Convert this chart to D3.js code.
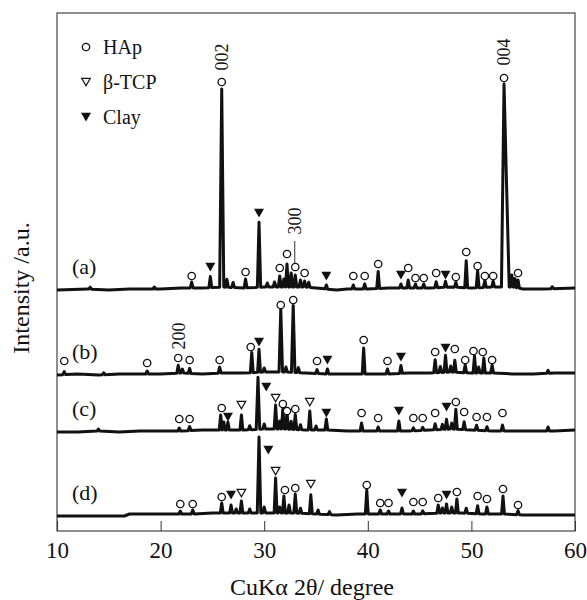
<!DOCTYPE html>
<html>
<head>
<meta charset="utf-8">
<script src="https://cdn.jsdelivr.net/npm/d3@7"></script>
<style>
  body { margin: 0; background: #fff; }
  text { font-family: "Liberation Serif", "Times New Roman", serif; fill: #111; }
</style>
</head>
<body>
<div id="chart"></div>
<script>
// x ticks
const thetaTicks = [10, 20, 30, 40, 50, 60];

// trace labels and vertical offsets (intensity units)
const traceNames = ["(a)", "(b)", "(c)", "(d)"];
const traceOffsets = [241, 156, 99, 15];

// background of each pattern [2theta, intensity]
const baseA = [[10,0],[13,1],[15,0],[17,1],[20,1],[22,2],[24,2],[26,3],[28,2],[30,3],[32,3],[34,3],[35,2],[37,0],[38,1],[40,1],[42,2],[44,2],[46,2],[48,3],[50,2],[52,3],[54,3],[55,1],[57,1],[60,2]];
const baseB = [[10,0],[12,1],[14,0],[16,1],[18,1],[20,1],[22,2],[24,1],[26,2],[28,2],[30,3],[32,3],[34,2],[36,1],[38,1],[40,1],[42,1],[44,2],[46,2],[48,3],[50,2],[52,2],[54,1],[56,1],[58,2],[60,2]];
const baseC = [[10,0],[12,0],[14,1],[16,0],[18,1],[20,1],[22,1],[24,2],[26,2],[28,2],[30,3],[32,3],[34,2],[36,2],[38,1],[40,1],[42,1],[44,1],[46,2],[48,3],[50,2],[52,1],[54,1],[56,1],[58,1],[60,2]];
const baseD = [[10,0],[13,0],[16.5,0],[17,2],[19,2],[21,2],[23,2],[25,3],[27,3],[29,3],[31,3],[33,3],[35,2],[37,1],[39,2],[41,2],[43,2],[45,2],[47,3],[49,3],[51,2],[53,2],[55,1],[57,1],[60,1]];

// peaks [2theta, height, half width]
const peaksA = [[13.2,2],[19.4,2],[23.0,6],[24.8,11],[25.9,198,0.2],[26.4,8],[27.0,5],[28.2,9],[29.5,65,0.16],[30.3,4],[31.0,5],[31.5,11],[31.9,8],[32.2,23],[32.6,14],[33.0,12],[33.5,7],[33.9,6],[34.3,5],[36.0,4],[38.6,4],[39.7,5],[41.0,17],[43.2,4],[43.9,8],[44.6,4],[45.4,4],[46.6,6],[47.5,6],[48.5,5],[49.5,27],[50.6,17],[51.3,7],[52.1,6],[53.15,203,0.25],[53.4,100,0.25],[53.9,12],[54.2,9],[54.5,8],[57.8,2]];
const peaksB = [[10.7,3],[14.5,2],[18.7,3],[21.7,8],[22.1,4],[22.8,5],[25.7,6],[28.8,20],[29.5,23],[30.0,4],[31.6,63,0.17],[32.1,5],[32.8,67,0.17],[33.3,5],[35.1,4],[36.1,5],[39.6,26],[41.9,5],[43.2,8],[46.5,13],[47.0,6],[47.5,17],[48.0,6],[48.4,12],[49.4,8],[50.3,17],[50.7,6],[51.2,15],[52.0,8],[57.4,3]];
const peaksC = [[14.0,2],[21.8,3],[22.8,4],[25.8,15],[26.1,8],[26.5,8],[27.8,15],[28.6,4],[29.4,52,0.17],[30.0,5],[31.1,24],[31.5,8],[31.8,20],[32.2,17],[32.6,8],[33.0,15],[33.5,5],[34.4,19],[35.0,4],[36.0,11],[39.4,8],[41.0,4],[43.0,10],[44.4,3],[45.3,3],[46.5,6],[47.2,5],[47.6,10],[48.1,6],[48.5,20],[49.3,8],[50.5,5],[51.5,4],[53.0,6],[57.4,4]];
const peaksD = [[21.9,3],[23.1,4],[25.9,10],[26.8,8],[27.3,4],[27.8,12],[28.6,4],[29.5,76,0.17],[30.0,6],[31.1,35],[31.5,6],[31.9,17],[32.4,8],[33.0,19],[33.5,5],[34.5,19],[35.2,4],[36.3,3],[39.9,24],[41.2,4],[42.0,3],[43.3,6],[44.4,3],[45.3,3],[46.8,8],[47.2,5],[47.6,9],[48.1,6],[48.6,14],[49.5,5],[50.6,8],[51.5,7],[53.05,18],[54.5,4]];

// phase markers [2theta, height above pattern baseline]
const hapA = [[23.0,14],[25.9,208],[28.2,18],[31.5,22],[32.2,36],[33.0,23],[33.9,17],[38.6,14],[39.7,14],[41.0,26],[43.9,22],[44.6,12],[45.4,12],[46.6,17],[48.5,13],[49.5,38],[50.6,24],[51.3,14],[52.1,14],[53.15,212],[54.5,17]];
const clayA = [[24.8,23],[29.5,77],[36.0,14],[43.2,15],[47.5,15]];
const hapB = [[10.7,14],[18.7,12],[21.7,17],[22.8,15],[25.7,15],[28.7,28],[31.6,70],[32.8,75],[35.1,14],[39.6,35],[41.9,14],[46.5,23],[48.4,26],[49.4,15],[50.2,24],[51.1,23],[52.0,15]];
const clayB = [[29.5,33],[36.1,15],[43.2,18],[47.5,27]];
const hapC = [[21.8,13],[22.8,13],[25.9,24],[31.8,28],[32.2,21],[33.0,23],[39.4,19],[41.0,14],[44.4,14],[45.3,14],[46.5,19],[48.5,30],[49.3,20],[50.5,15],[51.5,15],[53.0,19]];
const tcpC = [[27.8,27],[31.1,34],[34.4,30]];
const clayC = [[26.5,15],[30.2,45],[36.0,19],[43.0,21],[47.6,25]];
const hapD = [[21.9,12],[23.1,12],[25.9,19],[32.0,26],[33.0,28],[39.9,31],[41.2,13],[42.0,13],[44.4,14],[45.3,14],[46.8,18],[48.6,24],[50.6,20],[51.5,17],[53.05,27],[54.5,11]];
const tcpD = [[27.8,23],[31.1,45],[34.5,32]];
const clayD = [[26.8,21],[30.4,66],[43.3,23],[47.6,21]];

// reflection labels [text, 2theta, trace index, height of label centre, leader from, leader to]
const hklLabels = [["002", 25.9, 0, 233], ["004", 53.15, 0, 238], ["300", 32.95, 0, 69, 27, 49], ["200", 21.7, 1, 39]];

const legendItems = [["hap", "HAp"], ["tcp", "β-TCP"], ["clay", "Clay"]];

const width = 587, height = 600;
const svg = d3.select("#chart").append("svg")
  .attr("width", width).attr("height", height);

const x = d3.scaleLinear().domain([10, 60]).range([57, 575]);
const y = d3.scaleLinear().domain([0, 518]).range([531, 13]);

// pattern = background + upper envelope of the peak triangles
const tracePoints = (base, peaks) => {
  const b = d3.scaleLinear().domain(base.map(d => d[0])).range(base.map(d => d[1])).clamp(true);
  const keys = base.map(d => d[0]);
  peaks.forEach(([t, h, w = 0.14]) => keys.push(t - w, t, t + w));
  keys.sort(d3.ascending);
  return keys.map(t => [t, b(t) + d3.max(peaks, ([p, h, w = 0.14]) => Math.max(0, h * (1 - Math.abs(t - p) / w)))]);
};

const traces = [[baseA, peaksA], [baseB, peaksB], [baseC, peaksC], [baseD, peaksD]];
const markerSets = [
  [["hap", hapA], ["clay", clayA]],
  [["hap", hapB], ["clay", clayB]],
  [["hap", hapC], ["tcp", tcpC], ["clay", clayC]],
  [["hap", hapD], ["tcp", tcpD], ["clay", clayD]]
];

// axis (ticks inward), frame drawn separately
const xAxis = d3.axisBottom(x).tickValues(thetaTicks).tickSize(-10).tickPadding(11).tickFormat(d3.format("d"));
const axisG = svg.append("g").attr("transform", `translate(0,${y(0)})`).call(xAxis);
axisG.select(".domain").remove();
axisG.selectAll(".tick line").attr("stroke", "#333");
axisG.selectAll(".tick text")
  .style("font-family", "'Liberation Serif', serif").style("font-size", "23px").attr("fill", "#111");

svg.append("rect")
  .attr("x", x(10)).attr("y", y(518))
  .attr("width", x(60) - x(10)).attr("height", y(0) - y(518))
  .attr("fill", "none").attr("stroke", "#333").attr("stroke-width", 1.1);

// patterns
traces.forEach(([base, peaks], i) => {
  const off = traceOffsets[i];
  const line = d3.line().x(d => x(d[0])).y(d => y(off + d[1]));
  svg.append("path")
    .attr("d", line(tracePoints(base, peaks)))
    .attr("fill", "none").attr("stroke", "#111")
    .attr("stroke-width", 3).attr("stroke-linejoin", "round");
  svg.append("text")
    .attr("x", 72).attr("y", y(off) - 16.5)
    .style("font-size", "22px")
    .text(traceNames[i]);
});

// marker shapes
const drawMarker = (g, type) => {
  if (type === "hap") {
    g.append("circle").attr("r", 3.7).attr("fill", "#fff").attr("stroke", "#111").attr("stroke-width", 1.3);
  } else if (type === "tcp") {
    g.append("path").attr("d", "M-4.3,-3.6L4.3,-3.6L0,3.8Z").attr("fill", "#fff").attr("stroke", "#111").attr("stroke-width", 1.2);
  } else {
    g.append("path").attr("d", "M-5,-4.2L5,-4.2L0,4.4Z").attr("fill", "#111");
  }
};

markerSets.forEach((sets, i) => {
  sets.forEach(([type, arr]) => {
    arr.forEach(([t, h]) => {
      const g = svg.append("g").attr("transform", `translate(${x(t)},${y(traceOffsets[i] + h)})`);
      drawMarker(g, type);
    });
  });
});

// reflection indices
hklLabels.forEach(([txt, t, i, h, l0, l1]) => {
  const off = traceOffsets[i];
  svg.append("text")
    .attr("transform", `translate(${x(t)},${y(off + h)}) rotate(-90)`)
    .attr("text-anchor", "middle").attr("dy", "0.35em")
    .style("font-size", "18px").attr("fill", "#444")
    .text(txt);
  if (l0 !== undefined) {
    svg.append("line")
      .attr("x1", x(t)).attr("x2", x(t))
      .attr("y1", y(off + l0)).attr("y2", y(off + l1))
      .attr("stroke", "#333").attr("stroke-width", 1);
  }
});

// legend
legendItems.forEach(([type, label], i) => {
  const cy = 47 + i * 35;
  const g = svg.append("g").attr("transform", `translate(86,${cy})`);
  drawMarker(g, type);
  svg.append("text")
    .attr("x", 103).attr("y", cy).attr("dy", "0.34em")
    .style("font-size", "20px")
    .text(label);
});

// axis titles
svg.append("text")
  .attr("x", 312).attr("y", 595)
  .attr("text-anchor", "middle")
  .style("font-size", "24px")
  .text("CuKα 2θ/ degree");

svg.append("text")
  .attr("transform", "translate(29,288) rotate(-90)")
  .attr("text-anchor", "middle")
  .style("font-size", "24px")
  .text("Intensity /a.u.");
</script>
</body>
</html>
